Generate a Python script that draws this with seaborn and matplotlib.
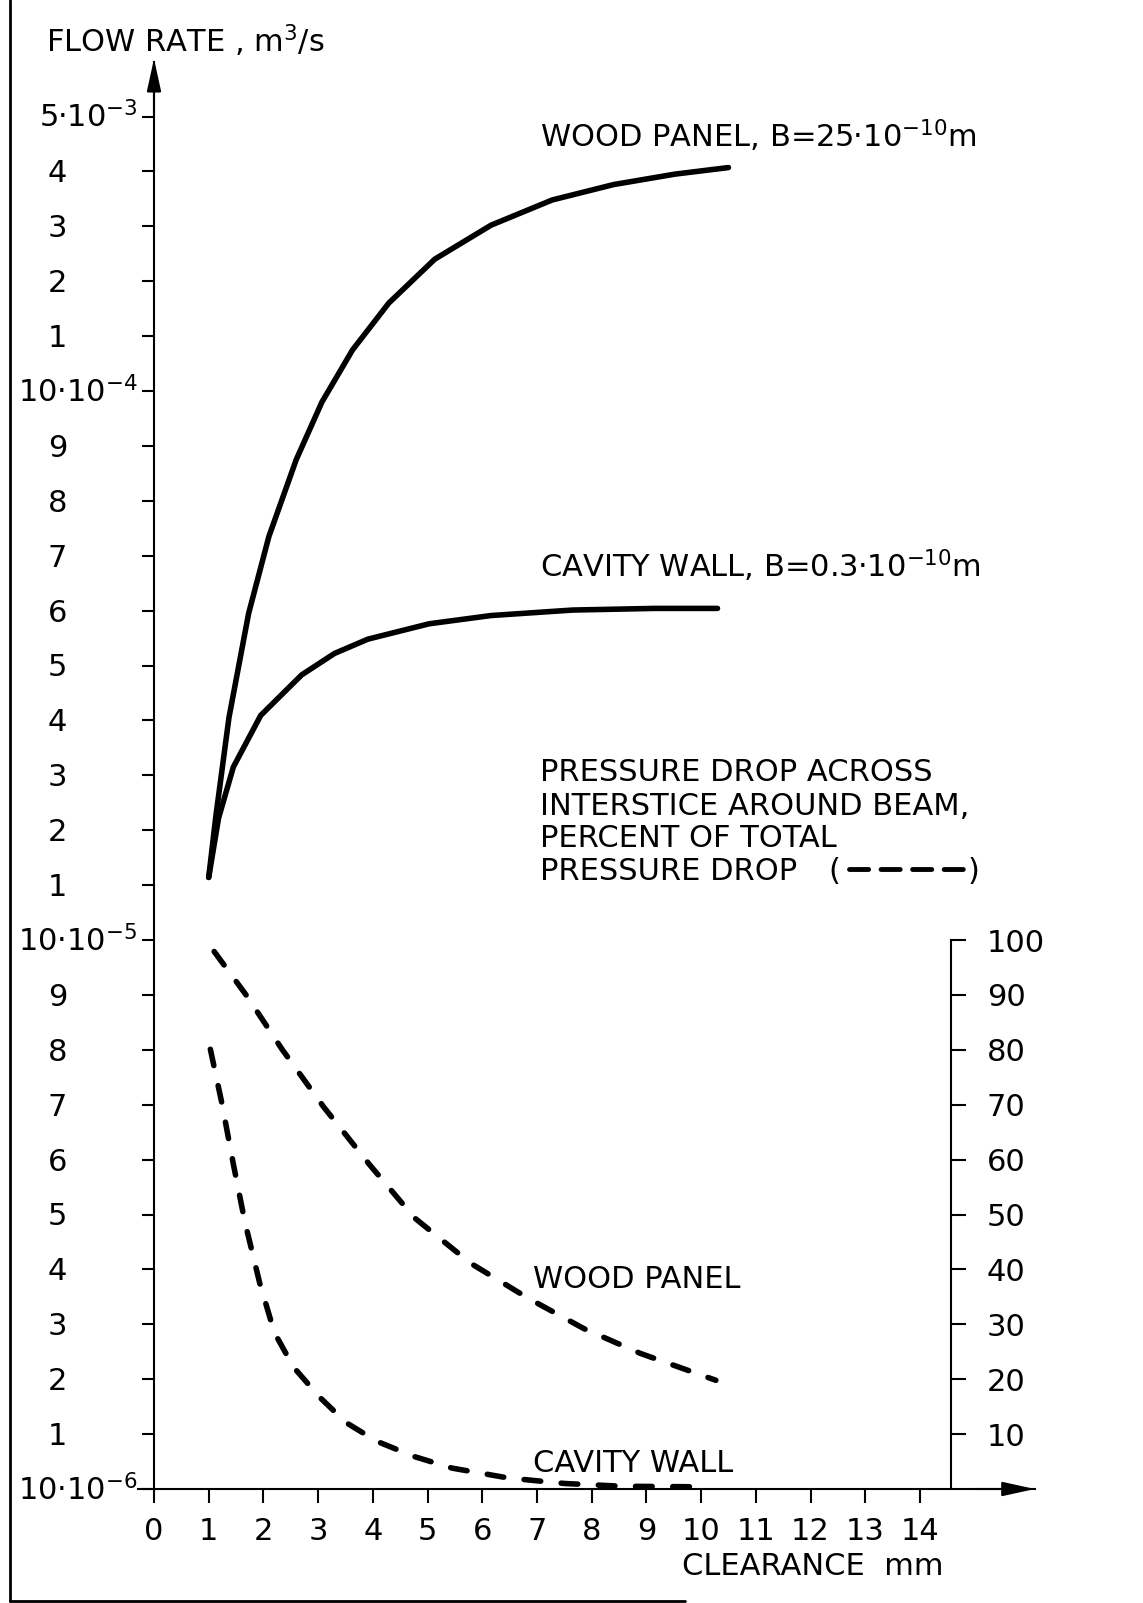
import numpy as np
import pandas as pd
import matplotlib
matplotlib.use('Agg')
import matplotlib.pyplot as plt
import seaborn as sns
from matplotlib.lines import Line2D

# flow rate curves, y as position on the left scale (0 = 10e-6 ... 25 = 5e-3)
wood_x = [1.0, 1.13, 1.37, 1.73, 2.1, 2.6, 3.07, 3.63, 4.29, 5.13, 6.16, 7.28, 8.4, 9.52, 10.5]
wood_y = [11.14, 12.25, 14.05, 15.95, 17.35, 18.75, 19.8, 20.75, 21.6, 22.4, 23.02, 23.48, 23.76, 23.95, 24.07]
cav_x = [1.0, 1.18, 1.45, 1.95, 2.7, 3.3, 3.91, 5.03, 6.16, 7.65, 9.15, 10.3]
cav_y = [11.14, 12.22, 13.15, 14.09, 14.83, 15.22, 15.48, 15.76, 15.91, 16.01, 16.04, 16.04]

# pressure drop, percent (right scale)
wood_dp_x = [1.10, 1.69, 2.34, 3.10, 3.93, 4.76, 5.79, 6.83, 7.86, 8.89, 10.27]
wood_dp = [97.9, 89.9, 80.1, 69.6, 59.2, 49.4, 41.1, 34.8, 29.2, 24.7, 19.8]
cav_dp_x = [1.03, 1.24, 1.45, 1.66, 1.93, 2.20, 2.55, 3.03, 3.51, 4.07, 4.76, 5.45, 6.48, 7.51, 8.55, 10.0]
cav_dp = [80.1, 70.3, 59.2, 48.7, 37.6, 28.5, 22.2, 16.7, 12.1, 8.7, 5.9, 3.8, 2.0, 1.0, 0.5, 0.4]

left_labels = ['10·10$^{-6}$', '1', '2', '3', '4', '5', '6', '7', '8', '9',
               '10·10$^{-5}$', '1', '2', '3', '4', '5', '6', '7', '8', '9',
               '10·10$^{-4}$', '1', '2', '3', '4', '5·10$^{-3}$']
x_ticks = list(range(15))
right_ticks = [10, 20, 30, 40, 50, 60, 70, 80, 90, 100]

sns.set_style('white')
plt.rcParams['font.family'] = ['DejaVu Sans']
plt.rcParams['mathtext.default'] = 'regular'
for k in ['text.color', 'xtick.color', 'ytick.color', 'axes.labelcolor', 'axes.edgecolor']:
    plt.rcParams[k] = 'black'
FS = 22

fig = plt.figure(figsize=(11.43, 16.03), dpi=100)
ax = fig.add_axes([0, 0, 1, 1])
ax.set_xlim(-154 / 54.71, (1143 - 154) / 54.71)
ax.set_ylim(-(1603 - 1489) / 54.9, 1489 / 54.9)
ax2 = ax.twinx()
ax2.set_position([0, 0, 1, 1])
ax2.set_ylim(-(1603 - 1489) / 54.9 * 10, 1489 / 54.9 * 10)

lw = 4.0
sns.lineplot(x=wood_x, y=wood_y, ax=ax, color='black', lw=lw, errorbar=None,
             solid_capstyle='round', solid_joinstyle='round')
sns.lineplot(x=cav_x, y=cav_y, ax=ax, color='black', lw=lw, errorbar=None,
             solid_capstyle='round', solid_joinstyle='round')
sns.lineplot(x=wood_dp_x, y=wood_dp, ax=ax2, color='black', lw=4.0, errorbar=None,
             linestyle=(0, (3.0, 3.7)), dash_capstyle='round')
sns.lineplot(x=cav_dp_x, y=cav_dp, ax=ax2, color='black', lw=4.0, errorbar=None,
             linestyle=(0, (3.0, 3.7)), dash_capstyle='round')

# axes spines
for a in (ax, ax2):
    a.set_xlabel('')
    a.set_ylabel('')
    a.spines['top'].set_visible(False)
ax.spines['right'].set_visible(False)
ax.spines['left'].set_position(('data', 0))
ax.spines['left'].set_bounds(0, 26)
ax.spines['bottom'].set_position(('data', 0))
ax.spines['bottom'].set_bounds(-0.3, 16.1)
ax2.spines['left'].set_visible(False)
ax2.spines['bottom'].set_visible(False)
ax2.spines['right'].set_position(('data', 14.56))
ax2.spines['right'].set_bounds(0, 100)
for s in ['left', 'bottom']:
    ax.spines[s].set_linewidth(1.5)
ax2.spines['right'].set_linewidth(1.5)

ax.set_xticks(x_ticks)
ax.set_xticklabels([str(t) for t in x_ticks], fontsize=FS)
ax.tick_params(axis='x', direction='out', length=10, width=1.5, pad=10, bottom=True)
ax.set_yticks(range(len(left_labels)))
ax.set_yticklabels([])
ax.tick_params(axis='y', direction='out', length=9, width=1.5, left=True)
ax2.set_yticks(right_ticks)
ax2.set_yticklabels([str(t) for t in right_ticks], fontsize=FS)
ax2.tick_params(axis='y', direction='out', length=11, width=1.5, pad=15, right=True)

# left scale labels
for i, lab in enumerate(left_labels):
    if '$' in lab:
        ax.text(-0.3, i - 0.2, lab, fontsize=FS, ha='right', va='baseline')
    else:
        ax.text(-1.94, i - 0.2, lab, fontsize=FS, ha='left', va='baseline')

# arrow heads
arr = dict(arrowstyle='-|>,head_length=1.0,head_width=0.22', color='black', lw=1.5,
           mutation_scale=20, shrinkA=0, shrinkB=0)
ax.annotate('', xy=(0, 26.05), xytext=(0, 25.0), arrowprops=arr)
ax.annotate('', xy=(16.1, 0), xytext=(15.0, 0), arrowprops=arr)

# texts
ax.text(-1.974, 26.16, 'FLOW RATE , m$^3$/s', fontsize=FS, ha='left', va='baseline')
ax.text(7.055, 24.44, 'WOOD PANEL, B=25·10$^{-10}$m', fontsize=FS, ha='left', va='baseline')
ax.text(7.055, 16.61, 'CAVITY WALL, B=0.3·10$^{-10}$m', fontsize=FS, ha='left', va='baseline')
pd_lines = ['PRESSURE DROP ACROSS', 'INTERSTICE AROUND BEAM,', 'PERCENT OF TOTAL', 'PRESSURE DROP']
for line, yb in zip(pd_lines, [781, 815, 847, 880]):
    ax.text((540 - 154) / 54.71, (1489 - yb) / 54.9, line, fontsize=FS, ha='left', va='baseline')
ax.text((828 - 154) / 54.71, (1489 - 880) / 54.9, '(', fontsize=FS, ha='left', va='baseline')
ax.text((968 - 154) / 54.71, (1489 - 880) / 54.9, ')', fontsize=FS, ha='left', va='baseline')
fig.add_artist(Line2D([849 / 1143, 964 / 1143], [1 - 869 / 1603] * 2, color='black', lw=3.5,
                      linestyle=(0, (3.94, 2.55)), dash_capstyle='round'))
ax.text(6.93, 3.66, 'WOOD PANEL', fontsize=FS, ha='left', va='baseline')
ax.text(6.93, 0.31, 'CAVITY WALL', fontsize=FS, ha='left', va='baseline')
ax.text(9.65, -1.566, 'CLEARANCE  mm', fontsize=FS, ha='left', va='baseline')

# page frame
fig.add_artist(Line2D([10 / 1143, 10 / 1143], [1 - 1601 / 1603, 1.0], color='black', lw=2))
fig.add_artist(Line2D([10 / 1143, 685 / 1143], [1 - 1601 / 1603] * 2, color='black', lw=2))

fig.savefig('out.png', dpi=100, facecolor='white')
